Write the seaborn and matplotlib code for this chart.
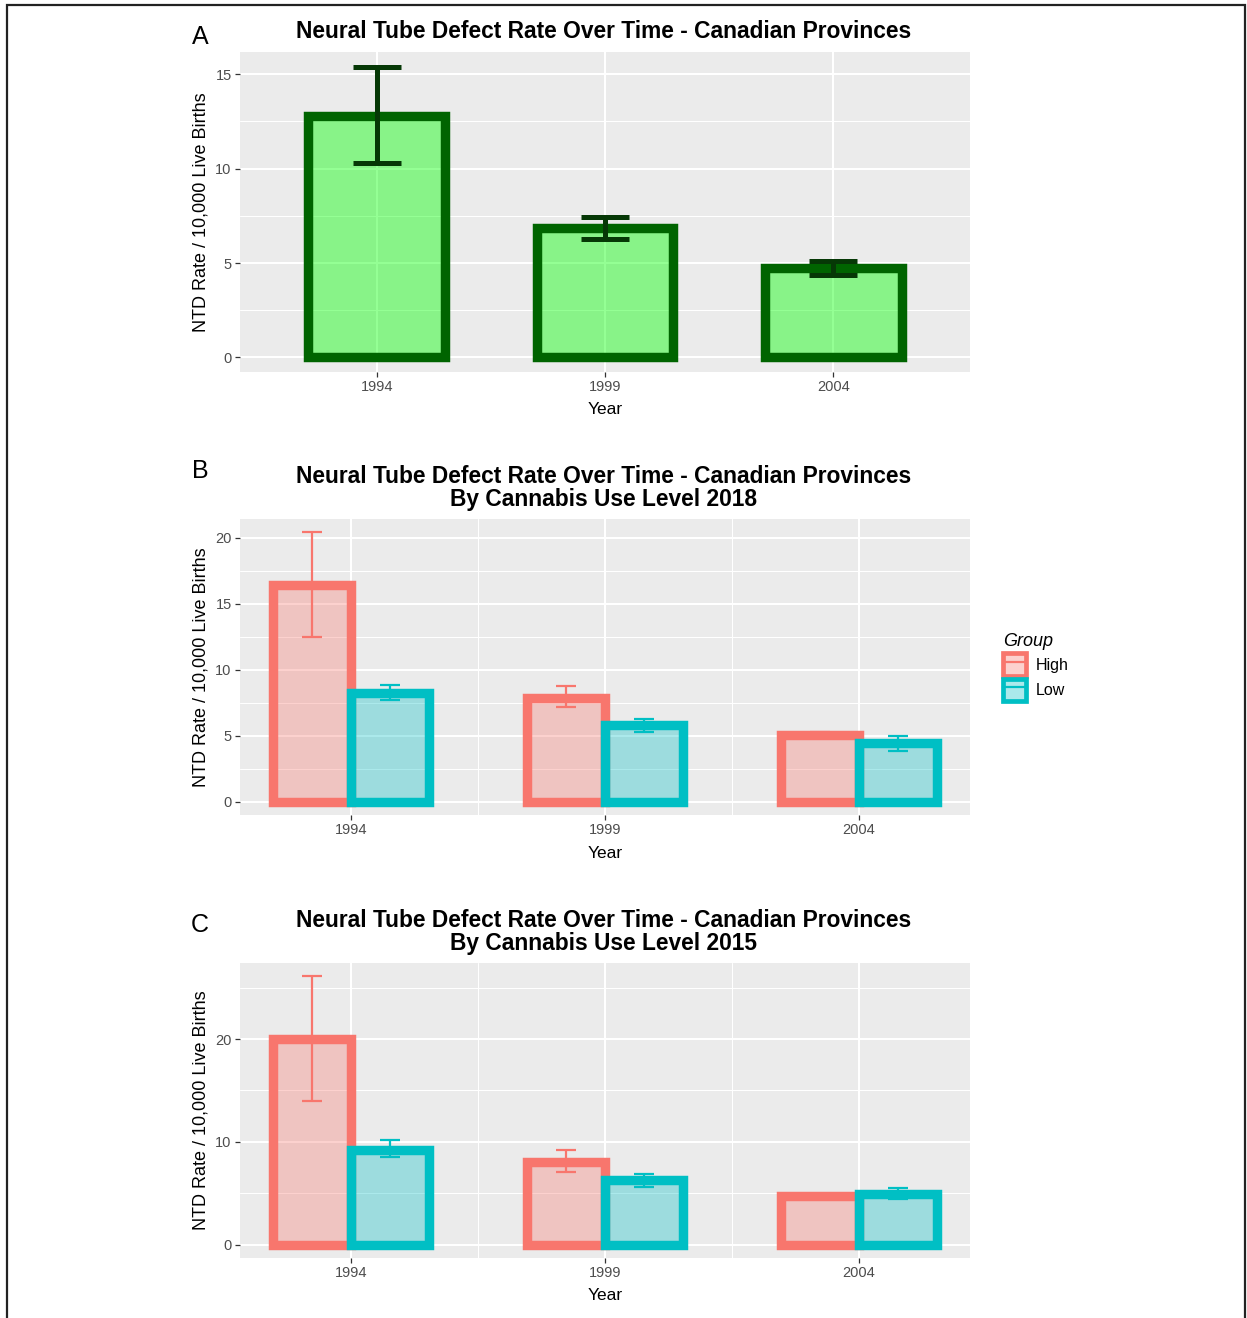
import matplotlib
matplotlib.use("Agg")
import matplotlib.pyplot as plt
from matplotlib.ticker import AutoMinorLocator, FixedLocator, MultipleLocator
from matplotlib.patches import Patch, Rectangle
from matplotlib.lines import Line2D
from matplotlib.colors import to_rgba
import seaborn as sns
import pandas as pd

# ---- data -------------------------------------------------------------
years = [1994, 1999, 2004]
groups = ["High", "Low"]

# Panel A: all provinces
rate_all = [12.8, 6.85, 4.75]
lower_all = [10.3, 6.25, 4.35]
upper_all = [15.4, 7.45, 5.1]

# Panel B: by cannabis use level 2018
rate_2018_high = [16.4, 7.85, 5.05]
lower_2018_high = [12.45, 7.15, 4.85]
upper_2018_high = [20.4, 8.75, 5.25]
rate_2018_low = [8.25, 5.8, 4.45]
lower_2018_low = [7.7, 5.3, 3.85]
upper_2018_low = [8.85, 6.25, 5.0]

# Panel C: by cannabis use level 2015
rate_2015_high = [20.0, 8.05, 4.7]
lower_2015_high = [14.0, 7.1, 4.5]
upper_2015_high = [26.1, 9.2, 4.9]
rate_2015_low = [9.25, 6.25, 4.95]
lower_2015_low = [8.55, 5.6, 4.4]
upper_2015_low = [10.15, 6.85, 5.5]

title_main = "Neural Tube Defect Rate Over Time - Canadian Provinces"
ylabel = "NTD Rate / 10,000 Live Births"

# ---- style ------------------------------------------------------------
sns.set_style("darkgrid", {"axes.facecolor": "#EBEBEB", "grid.color": "white"})
plt.rcParams["font.family"] = ["Liberation Sans", "DejaVu Sans"]
plt.rcParams["text.color"] = "black"
plt.rcParams["axes.labelcolor"] = "black"

W, H = 1247, 1318
fig = plt.figure(figsize=(W / 100, H / 100), dpi=100)
fig.patch.set_facecolor("white")

HIGH_C = "#F8766D"
LOW_C = "#00BFC4"
pal = {"High": HIGH_C, "Low": LOW_C}
BAR_W = 1.54          # width of one dodged bar, in years


def px_axes(left, top, right, bottom):
    return fig.add_axes([left / W, 1 - bottom / H, (right - left) / W, (bottom - top) / H])


def style_axes(ax, top_px, bottom_px, ymajor, xminor=None):
    ax.set_axisbelow(True)
    for s in ax.spines.values():
        s.set_visible(False)
    ax.yaxis.set_major_locator(MultipleLocator(ymajor))
    ax.yaxis.set_minor_locator(AutoMinorLocator(2))
    if xminor is not None:
        ax.xaxis.set_minor_locator(FixedLocator(xminor))
    ax.grid(which="major", color="white", linewidth=1.5)
    ax.grid(which="minor", color="white", linewidth=0.75)
    ax.tick_params(which="major", length=3.5, width=0.9, color="#333333",
                   labelcolor="#4D4D4D", labelsize=10.5, pad=2.5,
                   left=True, bottom=True)
    ax.tick_params(which="minor", length=0)
    ax.set_xlabel("Year", fontsize=12.5, color="black")
    ax.set_ylabel(ylabel, fontsize=13, color="black")
    h = bottom_px - top_px
    ax.xaxis.set_label_coords(0.5, -38 / h)
    ax.xaxis.label.set_va("center")
    ax.yaxis.set_label_coords(-39 / 730, 0.5)
    ax.yaxis.label.set_va("center")


def y_limits(upper_lists):
    hi = max(max(u) for u in upper_lists)
    pad = 0.05 * hi
    return (-pad, hi + pad)


# ---- Panel A ------------------------------------------------------------
axA = px_axes(240, 52, 970, 372)
dfA = pd.DataFrame({"Year": [str(y) for y in years], "Rate": rate_all})
sns.barplot(data=dfA, x="Year", y="Rate", width=0.6, errorbar=None,
            color="#00FF00", ax=axA)
for p in axA.patches:
    p.set_facecolor(to_rgba("#00FF00", 0.42))
    p.set_edgecolor("#006400")
    p.set_linewidth(6.8)
    p.set_joinstyle("miter")
for p, m, lo, hi in zip(axA.patches, rate_all, lower_all, upper_all):
    xc = p.get_x() + p.get_width() / 2
    axA.errorbar(xc, m, yerr=[[m - lo], [hi - m]], fmt="none",
                 ecolor="#063806", elinewidth=3.6, capsize=17, capthick=3.6,
                 zorder=5)
axA.set_xlim(-0.6, 2.6)
axA.set_ylim(*y_limits([upper_all]))
style_axes(axA, 52, 372, 5)


# ---- Panels B and C -------------------------------------------------------
def group_panel(ax, top_px, bottom_px, rates, lows, highs, ymajor):
    df = pd.DataFrame({
        "Year": years * 2,
        "Group": ["High"] * 3 + ["Low"] * 3,
        "Rate": rates["High"] + rates["Low"],
    })
    step = years[1] - years[0]
    sns.barplot(data=df, x="Year", y="Rate", hue="Group", hue_order=groups,
                palette=pal, native_scale=True, width=2 * BAR_W / step,
                errorbar=None, legend=False, ax=ax)
    for g, cont in zip(groups, ax.containers):
        col = pal[g]
        for p, m, lo, hi in zip(cont.patches, rates[g], lows[g], highs[g]):
            p.set_facecolor(to_rgba(col, 0.33))
            p.set_edgecolor(col)
            p.set_linewidth(6.8)
            p.set_joinstyle("miter")
            xc = p.get_x() + p.get_width() / 2
            ax.errorbar(xc, m, yerr=[[m - lo], [hi - m]], fmt="none",
                        ecolor=col, elinewidth=1.6, capsize=7.5, capthick=1.6,
                        zorder=5)
    x0, x1 = years[0] - BAR_W, years[-1] + BAR_W
    pad = 0.05 * (x1 - x0)
    ax.set_xlim(x0 - pad, x1 + pad)
    ax.set_ylim(*y_limits([highs["High"], highs["Low"]]))
    ax.set_xticks(years)
    ax.set_xticklabels([str(y) for y in years])
    mids = [(a + b) / 2 for a, b in zip(years[:-1], years[1:])]
    style_axes(ax, top_px, bottom_px, ymajor, xminor=mids)


axB = px_axes(240, 519, 970, 815)
group_panel(axB, 519, 815,
            {"High": rate_2018_high, "Low": rate_2018_low},
            {"High": lower_2018_high, "Low": lower_2018_low},
            {"High": upper_2018_high, "Low": upper_2018_low}, 5)

axC = px_axes(240, 963, 970, 1258)
group_panel(axC, 963, 1258,
            {"High": rate_2015_high, "Low": rate_2015_low},
            {"High": lower_2015_high, "Low": lower_2015_low},
            {"High": upper_2015_high, "Low": upper_2015_low}, 10)

# ---- titles and panel letters ---------------------------------------------
def fx(x):
    return x / W


def fy(y):
    return 1 - y / H


fig.text(fx(604), fy(32), title_main, ha="center", va="center",
         fontsize=16.4, fontweight="bold", color="black")
fig.text(fx(604), fy(488), title_main + "\nBy Cannabis Use Level 2018",
         ha="center", va="center", fontsize=16.4, fontweight="bold",
         linespacing=1.05, color="black")
fig.text(fx(604), fy(932), title_main + "\nBy Cannabis Use Level 2015",
         ha="center", va="center", fontsize=16.4, fontweight="bold",
         linespacing=1.05, color="black")

for letter, y in zip(["A", "B", "C"], [37, 471, 925]):
    fig.text(fx(200), fy(y), letter, ha="center", va="center", fontsize=18,
             color="black")

# ---- legend -------------------------------------------------------------
handles = []
for g in groups:
    col = pal[g]
    box = Patch(facecolor=to_rgba(col, 0.33), edgecolor=col, linewidth=3.4)
    line = Line2D([], [], color=col, linewidth=1.6)
    handles.append((box, line))
leg = fig.legend(handles, groups, title="Group", loc="center left",
                 bbox_to_anchor=(fx(989), fy(667)), frameon=False,
                 fontsize=11.5, title_fontsize=13, handlelength=1.4,
                 handleheight=1.75, handletextpad=0.65, labelspacing=0.2,
                 alignment="left")
leg.get_title().set_fontstyle("italic")

# ---- outer frame ----------------------------------------------------------
fig.patches.append(Rectangle((fx(7), -0.02), fx(1245) - fx(7), fy(5) + 0.02,
                             transform=fig.transFigure, fill=False,
                             edgecolor="#222222", linewidth=1.6))

fig.savefig("out.png", dpi=100)
